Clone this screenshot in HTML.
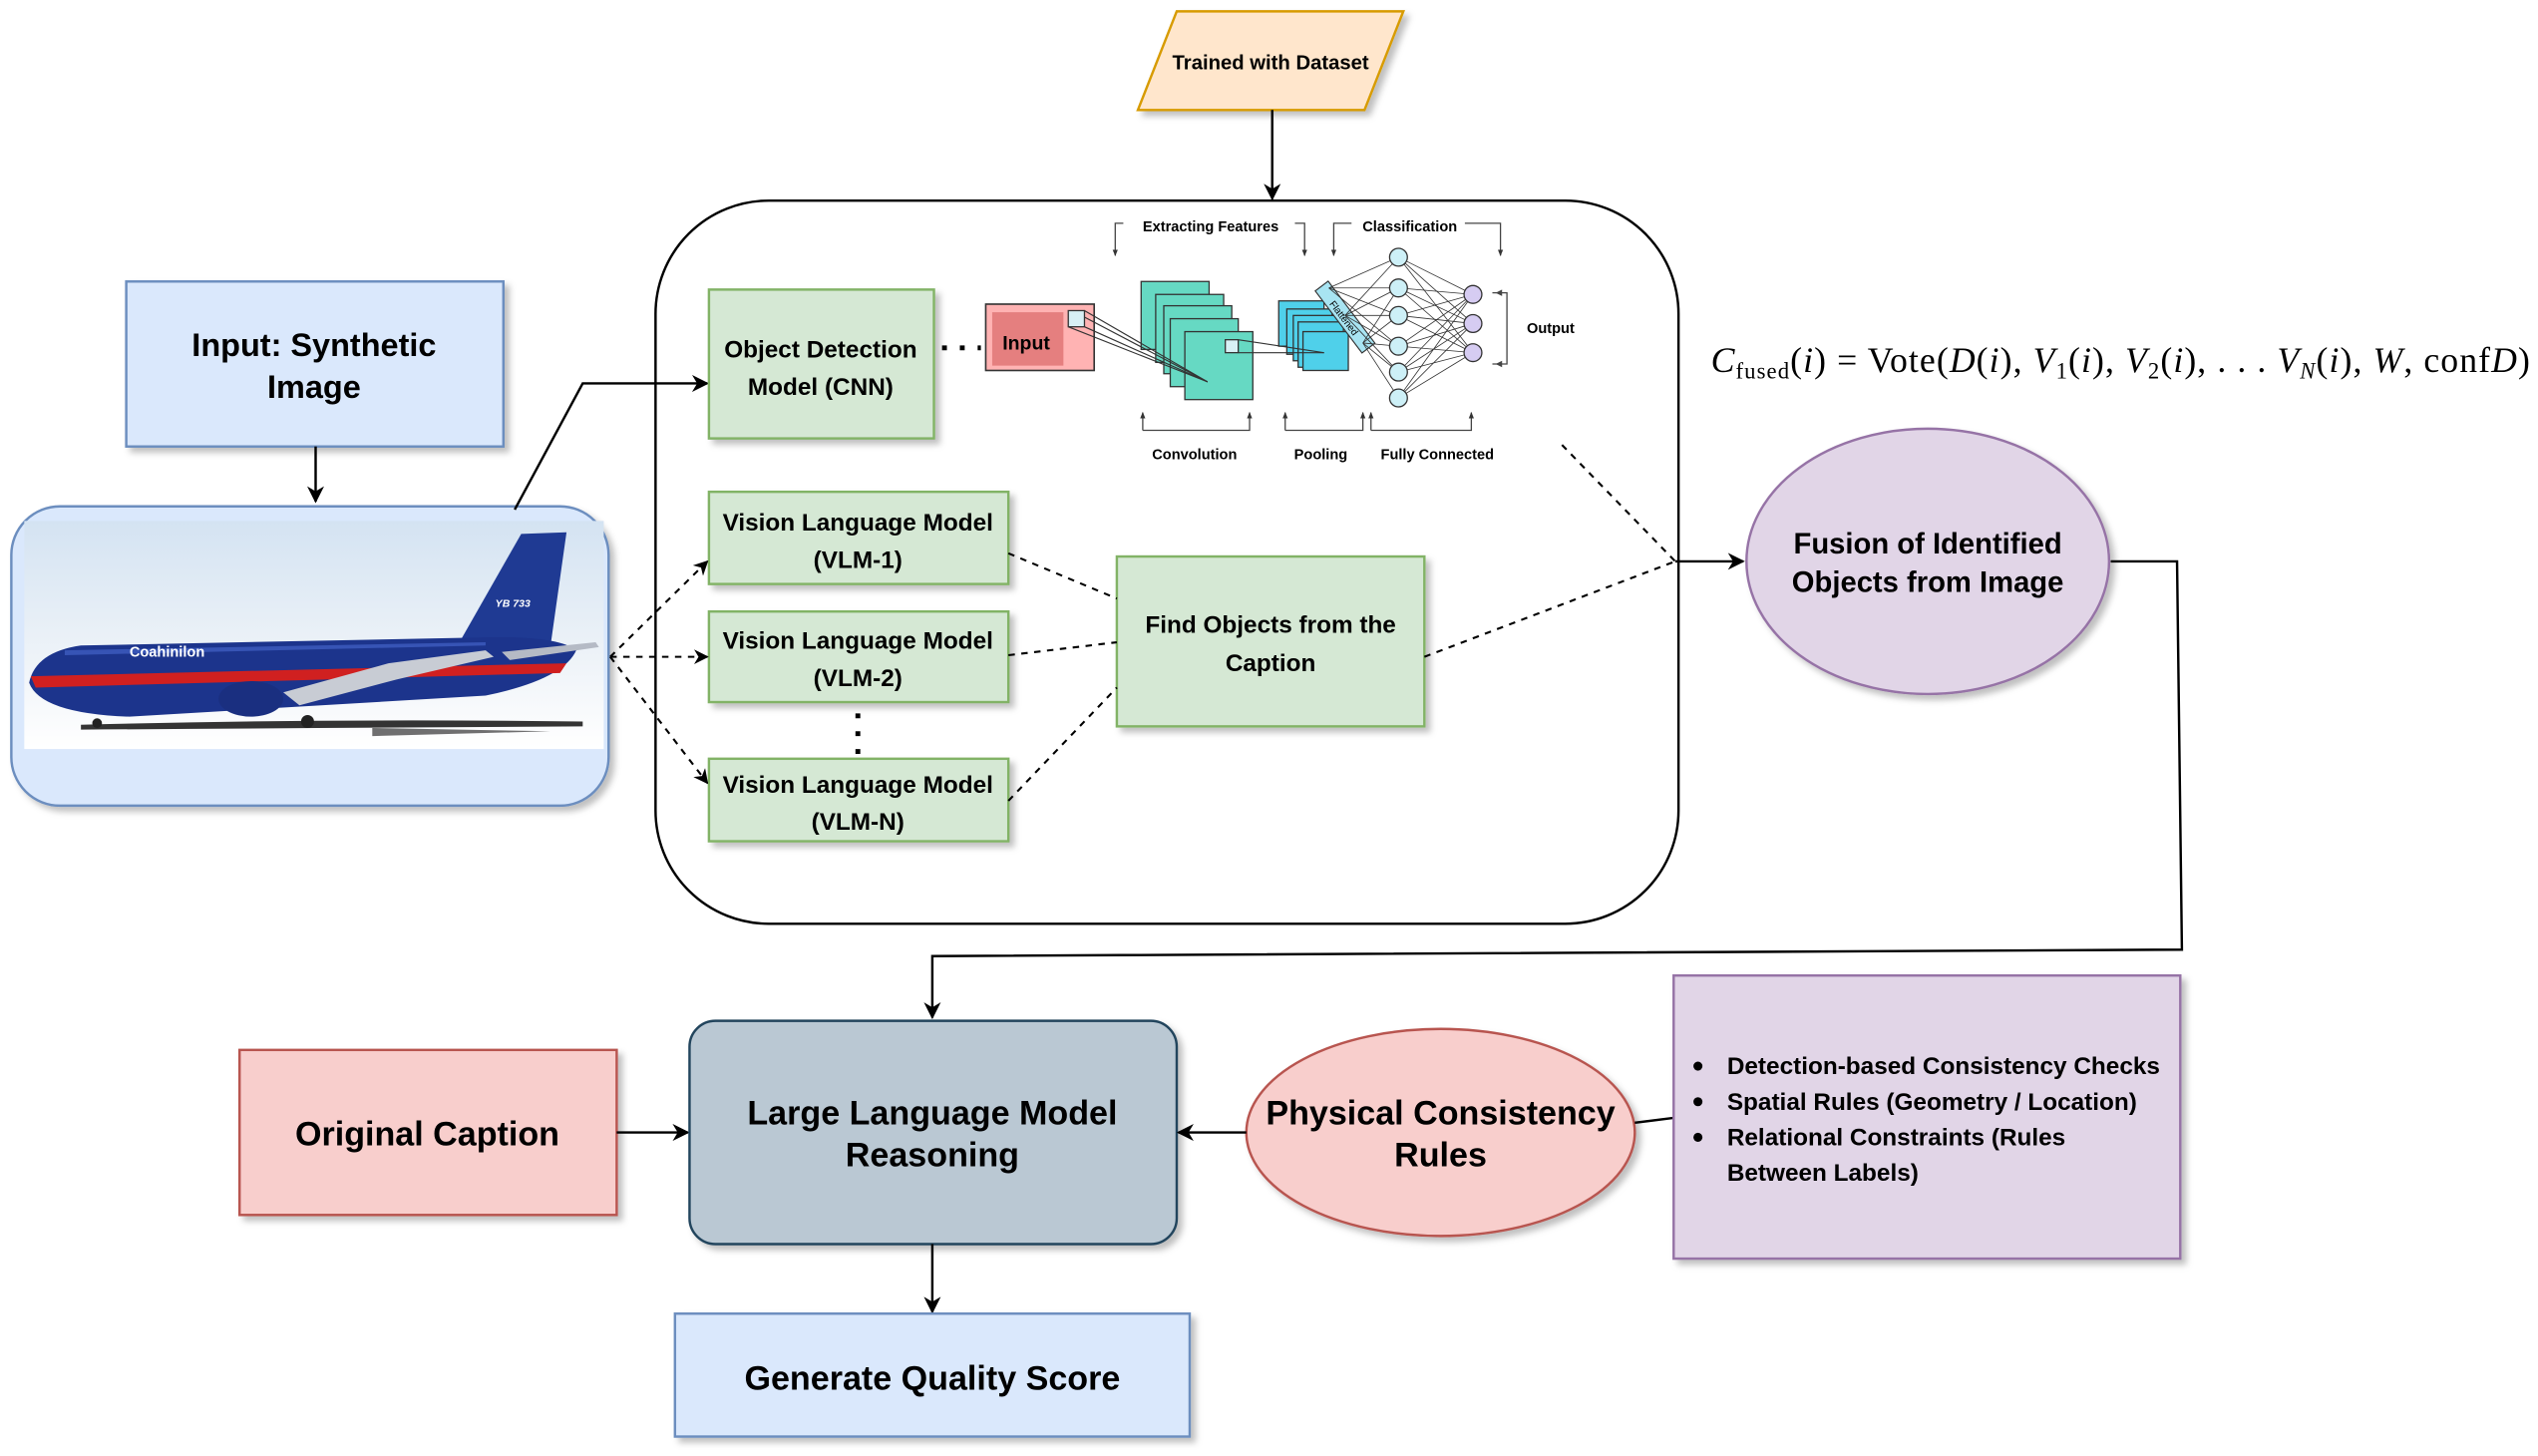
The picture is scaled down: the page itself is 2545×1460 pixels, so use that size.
<!DOCTYPE html>
<html><head><meta charset="utf-8"><style>
html,body{margin:0;padding:0;background:#fff;}
svg{display:block;}
text{font-family:"Liberation Sans",sans-serif;font-weight:bold;fill:#000;}
</style></head><body>
<svg width="2545" height="1460" viewBox="0 0 1568 900" preserveAspectRatio="none" xmlns="http://www.w3.org/2000/svg">
<defs>
<marker id="ar" viewBox="0 0 10 10" refX="9" refY="5" markerWidth="7" markerHeight="7" orient="auto-start-reverse"><path d="M0,0 L10,5 L0,10 L3,5 z" fill="#000"/></marker>
<marker id="sa" viewBox="0 0 10 10" refX="9" refY="5" markerWidth="5" markerHeight="5" orient="auto"><path d="M0,1 L10,5 L0,9 z" fill="#333"/></marker>
<filter id="sh" x="-10%" y="-10%" width="130%" height="130%"><feDropShadow dx="3" dy="3" stdDeviation="2" flood-color="#000" flood-opacity="0.25"/></filter>
<linearGradient id="sky" x1="0" y1="0" x2="0" y2="1"><stop offset="0" stop-color="#d4e3f2"/><stop offset="0.6" stop-color="#eef3f8"/><stop offset="1" stop-color="#ffffff"/></linearGradient>
</defs>

<polygon points="703,68 727,7 867,7 843,68" fill="#ffe6cc" stroke="#d79b00" stroke-width="1.5" filter="url(#sh)"/>
<text x="785" y="43" font-size="12.5" text-anchor="middle">Trained with Dataset</text>
<line x1="786" y1="68" x2="786" y2="123" stroke="#000" stroke-width="1.5" marker-end="url(#ar)"/>

<rect x="405" y="124" width="632" height="447" rx="70" fill="#fff" stroke="#000" stroke-width="1.5"/>

<rect x="78" y="174" width="233" height="102" fill="#dae8fc" stroke="#6c8ebf" stroke-width="1.5" filter="url(#sh)"/>
<text x="194" y="220" font-size="20" text-anchor="middle">Input: Synthetic</text>
<text x="194" y="246" font-size="20" text-anchor="middle">Image</text>
<line x1="195" y1="276" x2="195" y2="310" stroke="#000" stroke-width="1.5" marker-end="url(#ar)"/>

<rect x="7" y="313" width="369" height="185" rx="30" fill="#dae8fc" stroke="#6c8ebf" stroke-width="1.5" filter="url(#sh)"/>
<rect x="15" y="322" width="358" height="141" fill="url(#sky)"/>
<!-- airplane -->
<path d="M50,448 Q200,444 360,446 L360,449 Q200,450 50,451 z" fill="#111" opacity="0.85"/>
<path d="M230,450 L340,452 L230,455 z" fill="#111" opacity="0.6"/>
<path d="M285,395 L322,330 L350,329 L340,400 z" fill="#1f3a93"/>
<path d="M18,422 Q22,403 50,399 L300,394 Q345,393 356,402 Q348,420 300,430 L80,443 Q25,441 18,422 z" fill="#1c348c"/>
<path d="M19,418 L350,410 L346,416 L22,425 z" fill="#d02020"/>
<path d="M40,402 L300,397 L300,399 L40,405 z" fill="#4a6bd0" opacity="0.6"/>
<path d="M175,428 L240,410 L300,402 L305,406 L245,420 L185,436 z" fill="#c8ccd4"/>
<path d="M310,403 L368,397 L370,400 L315,408 z" fill="#b5bac5"/>
<ellipse cx="155" cy="432" rx="20" ry="11" fill="#1a2f80"/>
<circle cx="60" cy="447" r="3" fill="#222"/>
<circle cx="190" cy="446" r="4" fill="#222"/>
<text x="80" y="406" font-size="9" style="fill:#fff">Coahinilon</text>
<text x="306" y="375" font-size="6.5" style="fill:#fff;font-style:italic">YB 733</text>

<polyline points="318,315 360,237 437,237" fill="none" stroke="#000" stroke-width="1.5" marker-end="url(#ar)"/>

<rect x="438" y="179" width="139" height="92" fill="#d5e8d4" stroke="#82b366" stroke-width="1.5" filter="url(#sh)"/>
<text x="507" y="221" font-size="15" text-anchor="middle">Object Detection</text>
<text x="507" y="244" font-size="15" text-anchor="middle">Model (CNN)</text>
<line x1="582" y1="215" x2="606" y2="215" stroke="#000" stroke-width="3" stroke-dasharray="3,8"/>

<g font-size="9">
<text x="748" y="143" font-size="9" text-anchor="middle">Extracting Features</text>
<text x="871" y="143" font-size="9" text-anchor="middle">Classification</text>
<text x="958" y="206" font-size="9" text-anchor="middle">Output</text>
<text x="738" y="284" font-size="9" text-anchor="middle">Convolution</text>
<text x="816" y="284" font-size="9" text-anchor="middle">Pooling</text>
<text x="888" y="284" font-size="9" text-anchor="middle">Fully Connected</text>
</g>
<g stroke="#444" stroke-width="0.8" fill="none">
<polyline points="694,138 689,138 689,158" marker-end="url(#sa)"/>
<polyline points="800,138 806,138 806,158" marker-end="url(#sa)"/>
<polyline points="835,138 824,138 824,158" marker-end="url(#sa)"/>
<polyline points="905,138 927,138 927,158" marker-end="url(#sa)"/>
<polyline points="706,266 706,255" marker-end="url(#sa)"/>
<polyline points="706,266 772,266 772,255" marker-end="url(#sa)"/>
<polyline points="794,266 794,255" marker-end="url(#sa)"/>
<polyline points="794,266 842,266 842,255" marker-end="url(#sa)"/>
<polyline points="847,266 847,255" marker-end="url(#sa)"/>
<polyline points="847,266 909,266 909,255" marker-end="url(#sa)"/>
<polyline points="922,181 931,181 931,225 922,225"/>
</g>
<path d="M924,181 l4,-2 v4 z M924,225 l4,-2 v4 z" fill="#444"/>
<rect x="609" y="188" width="67" height="41" fill="#ffb3b3" stroke="#333" stroke-width="1"/>
<rect x="613" y="193" width="44" height="33" fill="#e57f7f"/>
<text x="634" y="216" font-size="12" text-anchor="middle">Input</text>
<rect x="660" y="192" width="10" height="10" fill="#d8f0f5" stroke="#333" stroke-width="0.8"/>
<g fill="#66d9c3" stroke="#333" stroke-width="0.8">
<rect x="705" y="174" width="42" height="42"/>
<rect x="714" y="182" width="42" height="42"/>
<rect x="719" y="189" width="42" height="42"/>
<rect x="723" y="197" width="42" height="42"/>
<rect x="732" y="205" width="42" height="42"/>
</g>
<g stroke="#333" stroke-width="0.7">
<line x1="670" y1="192" x2="746" y2="236"/><line x1="670" y1="202" x2="746" y2="236"/><line x1="660" y1="202" x2="746" y2="236"/><line x1="670" y1="196" x2="746" y2="236"/>
</g>
<rect x="757" y="210" width="8" height="8" fill="#d8f0f5" stroke="#333" stroke-width="0.8"/>
<g fill="#4fd0ea" stroke="#333" stroke-width="0.8">
<rect x="790" y="186" width="28" height="28"/>
<rect x="795" y="191" width="28" height="28"/>
<rect x="799" y="195" width="28" height="28"/>
<rect x="802" y="199" width="28" height="28"/>
<rect x="805" y="205" width="28" height="24"/>
</g>
<g stroke="#333" stroke-width="0.7"><line x1="765" y1="210" x2="818" y2="218"/><line x1="765" y1="218" x2="818" y2="218"/></g>
<g transform="translate(831,196) rotate(53)"><rect x="-24" y="-5" width="48" height="10" fill="#a8e4f2" stroke="#333" stroke-width="0.7"/><text x="0" y="3" font-size="6" text-anchor="middle" style="font-weight:normal">Flattened</text></g>
<g stroke="#333" stroke-width="0.5">
<line x1="821" y1="178" x2="864" y2="159"/><line x1="821" y1="178" x2="864" y2="178"/><line x1="821" y1="178" x2="864" y2="195"/><line x1="821" y1="178" x2="864" y2="214"/>
<line x1="831" y1="195" x2="864" y2="159"/><line x1="831" y1="195" x2="864" y2="178"/><line x1="831" y1="195" x2="864" y2="195"/><line x1="831" y1="195" x2="864" y2="214"/><line x1="831" y1="195" x2="864" y2="230"/>
<line x1="842" y1="212" x2="864" y2="178"/><line x1="842" y1="212" x2="864" y2="214"/><line x1="842" y1="212" x2="864" y2="230"/><line x1="842" y1="212" x2="864" y2="246"/><line x1="842" y1="212" x2="864" y2="195"/>
<line x1="864" y1="159" x2="910" y2="182"/><line x1="864" y1="159" x2="910" y2="200"/><line x1="864" y1="159" x2="910" y2="218"/>
<line x1="864" y1="178" x2="910" y2="182"/><line x1="864" y1="178" x2="910" y2="200"/><line x1="864" y1="178" x2="910" y2="218"/>
<line x1="864" y1="195" x2="910" y2="182"/><line x1="864" y1="195" x2="910" y2="200"/><line x1="864" y1="195" x2="910" y2="218"/>
<line x1="864" y1="214" x2="910" y2="182"/><line x1="864" y1="214" x2="910" y2="200"/><line x1="864" y1="214" x2="910" y2="218"/>
<line x1="864" y1="230" x2="910" y2="182"/><line x1="864" y1="230" x2="910" y2="200"/><line x1="864" y1="230" x2="910" y2="218"/>
<line x1="864" y1="246" x2="910" y2="182"/><line x1="864" y1="246" x2="910" y2="200"/><line x1="864" y1="246" x2="910" y2="218"/>
</g>
<g fill="#cdf0f7" stroke="#333" stroke-width="0.8">
<circle cx="864" cy="159" r="5.5"/><circle cx="864" cy="178" r="5.5"/><circle cx="864" cy="195" r="5.5"/><circle cx="864" cy="214" r="5.5"/><circle cx="864" cy="230" r="5.5"/><circle cx="864" cy="246" r="5.5"/>
</g>
<g fill="#d6ccf2" stroke="#333" stroke-width="0.8">
<circle cx="910" cy="182" r="5.5"/><circle cx="910" cy="200" r="5.5"/><circle cx="910" cy="218" r="5.5"/>
</g>

<g filter="url(#sh)" fill="#d5e8d4" stroke="#82b366" stroke-width="1.5">
<rect x="438" y="304" width="185" height="57"/>
<rect x="438" y="378" width="185" height="56"/>
<rect x="438" y="469" width="185" height="51"/>
<rect x="690" y="344" width="190" height="105"/>
</g>
<g font-size="15" text-anchor="middle">
<text x="530" y="328">Vision Language Model</text><text x="530" y="351">(VLM-1)</text>
<text x="530" y="401">Vision Language Model</text><text x="530" y="424">(VLM-2)</text>
<text x="530" y="490">Vision Language Model</text><text x="530" y="513">(VLM-N)</text>
<text x="785" y="391">Find Objects from the</text><text x="785" y="415">Caption</text>
</g>
<line x1="530" y1="441" x2="530" y2="468" stroke="#000" stroke-width="3" stroke-dasharray="3,8"/>

<g stroke="#000" stroke-width="1.3" stroke-dasharray="4,4" fill="none">
<line x1="377" y1="406" x2="437" y2="347" marker-end="url(#ar)"/>
<line x1="377" y1="406" x2="437" y2="406" marker-end="url(#ar)"/>
<line x1="377" y1="406" x2="437" y2="484" marker-end="url(#ar)"/>
<line x1="623" y1="342" x2="690" y2="370"/>
<line x1="623" y1="405" x2="690" y2="397"/>
<line x1="623" y1="495" x2="690" y2="425"/>
<line x1="880" y1="406" x2="1035" y2="347"/>
<line x1="965" y1="275" x2="1035" y2="347"/>
</g>
<line x1="1035" y1="347" x2="1077" y2="347" stroke="#000" stroke-width="1.5" marker-end="url(#ar)"/>

<text x="1057" y="230" font-size="22" textLength="506" lengthAdjust="spacing" style="font-family:'Liberation Serif',serif;font-weight:normal"><tspan font-style="italic">C</tspan><tspan font-size="14" dy="4">fused</tspan><tspan dy="-4">(</tspan><tspan font-style="italic">i</tspan>) = Vote(<tspan font-style="italic">D</tspan>(<tspan font-style="italic">i</tspan>), <tspan font-style="italic">V</tspan><tspan font-size="14" dy="4">1</tspan><tspan dy="-4">(</tspan><tspan font-style="italic">i</tspan>), <tspan font-style="italic">V</tspan><tspan font-size="14" dy="4">2</tspan><tspan dy="-4">(</tspan><tspan font-style="italic">i</tspan>), . . . <tspan font-style="italic">V</tspan><tspan font-size="14" dy="4" font-style="italic">N</tspan><tspan dy="-4">(</tspan><tspan font-style="italic">i</tspan>), <tspan font-style="italic">W</tspan>, conf<tspan font-style="italic">D</tspan>)</text>

<ellipse cx="1191" cy="347" rx="112" ry="82" fill="#e1d5e7" stroke="#9673a6" stroke-width="1.5" filter="url(#sh)"/>
<text x="1191" y="342" font-size="18" text-anchor="middle">Fusion of Identified</text>
<text x="1191" y="366" font-size="18" text-anchor="middle">Objects from Image</text>
<polyline points="1304,347 1345,347 1348,587 576,591 576,629" fill="none" stroke="#000" stroke-width="1.5" marker-end="url(#ar)"/>

<rect x="148" y="649" width="233" height="102" fill="#f8cecc" stroke="#b85450" stroke-width="1.5" filter="url(#sh)"/>
<text x="264" y="708" font-size="21" text-anchor="middle">Original Caption</text>
<line x1="381" y1="700" x2="425" y2="700" stroke="#000" stroke-width="1.5" marker-end="url(#ar)"/>
<rect x="426" y="631" width="301" height="138" rx="16" fill="#bac8d3" stroke="#23445d" stroke-width="1.5" filter="url(#sh)"/>
<text x="576" y="695" font-size="21" text-anchor="middle">Large Language Model</text>
<text x="576" y="721" font-size="21" text-anchor="middle">Reasoning</text>
<ellipse cx="890" cy="700" rx="120" ry="64" fill="#f8cecc" stroke="#b85450" stroke-width="1.5" filter="url(#sh)"/>
<text x="890" y="695" font-size="21" text-anchor="middle">Physical Consistency</text>
<text x="890" y="721" font-size="21" text-anchor="middle">Rules</text>
<line x1="770" y1="700" x2="728" y2="700" stroke="#000" stroke-width="1.5" marker-end="url(#ar)"/>
<line x1="1034" y1="691" x2="1010" y2="694" stroke="#000" stroke-width="1.5"/>
<rect x="1034" y="603" width="313" height="175" fill="#e1d5e7" stroke="#9673a6" stroke-width="1.5" filter="url(#sh)"/>
<g font-size="15">
<circle cx="1049" cy="659" r="2.8"/><circle cx="1049" cy="681" r="2.8"/><circle cx="1049" cy="703" r="2.8"/>
<text x="1067" y="664">Detection-based Consistency Checks</text>
<text x="1067" y="686">Spatial Rules (Geometry / Location)</text>
<text x="1067" y="708">Relational Constraints (Rules</text>
<text x="1067" y="730">Between Labels)</text>
</g>
<line x1="576" y1="769" x2="576" y2="811" stroke="#000" stroke-width="1.5" marker-end="url(#ar)"/>
<rect x="417" y="812" width="318" height="76" fill="#dae8fc" stroke="#6c8ebf" stroke-width="1.5" filter="url(#sh)"/>
<text x="576" y="859" font-size="21" text-anchor="middle">Generate Quality Score</text>
</svg>
</body></html>
